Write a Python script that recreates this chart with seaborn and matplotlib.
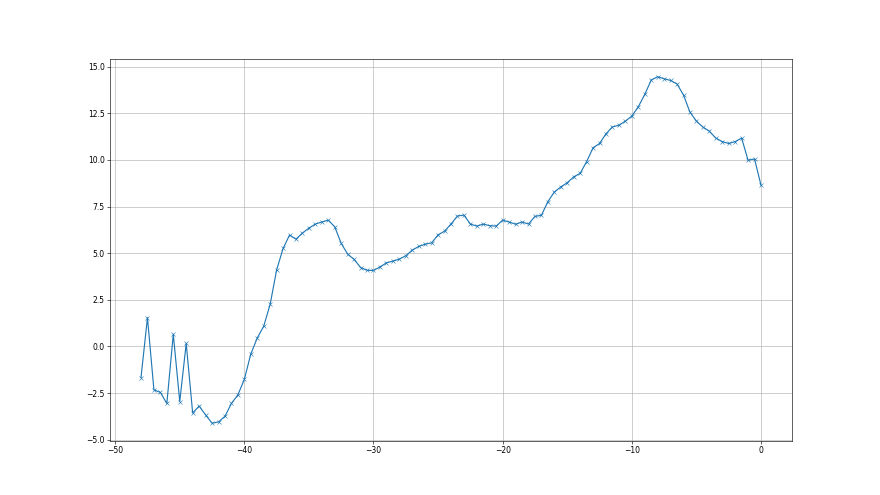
import matplotlib
matplotlib.use("Agg")
import matplotlib.pyplot as plt
import seaborn as sns
import pandas as pd

# x positions (time offset) and values
offsets = [
    -48.0, -47.5, -47.0, -46.5, -46.0, -45.5, -45.0, -44.5, -44.0, -43.5,
    -43.0, -42.5, -42.0, -41.5, -41.0, -40.5, -40.0, -39.5, -39.0, -38.5,
    -38.0, -37.5, -37.0, -36.5, -36.0, -35.5, -35.0, -34.5, -34.0, -33.5,
    -33.0, -32.5, -32.0, -31.5, -31.0, -30.5, -30.0, -29.5, -29.0, -28.5,
    -28.0, -27.5, -27.0, -26.5, -26.0, -25.5, -25.0, -24.5, -24.0, -23.5,
    -23.0, -22.5, -22.0, -21.5, -21.0, -20.5, -20.0, -19.5, -19.0, -18.5,
    -18.0, -17.5, -17.0, -16.5, -16.0, -15.5, -15.0, -14.5, -14.0, -13.5,
    -13.0, -12.5, -12.0, -11.5, -11.0, -10.5, -10.0, -9.5, -9.0, -8.5,
    -8.0, -7.5, -7.0, -6.5, -6.0, -5.5, -5.0, -4.5, -4.0, -3.5,
    -3.0, -2.5, -2.0, -1.5, -1.0, -0.5, 0.0,
]
values = [
    -1.67, 1.54, -2.33, -2.47, -3.06, 0.65, -2.96, 0.16, -3.57, -3.20,
    -3.67, -4.12, -4.05, -3.75, -3.06, -2.60, -1.77, -0.41, 0.45, 1.08,
    2.26, 4.10, 5.25, 5.97, 5.75, 6.08, 6.34, 6.56, 6.67, 6.77,
    6.41, 5.52, 4.95, 4.66, 4.23, 4.08, 4.07, 4.26, 4.48, 4.57,
    4.68, 4.86, 5.16, 5.36, 5.48, 5.55, 5.98, 6.18, 6.56, 6.99,
    7.04, 6.56, 6.45, 6.56, 6.47, 6.45, 6.77, 6.67, 6.55, 6.67,
    6.56, 6.97, 7.03, 7.76, 8.28, 8.55, 8.78, 9.09, 9.28, 9.91,
    10.65, 10.88, 11.40, 11.77, 11.86, 12.08, 12.35, 12.85, 13.51, 14.28,
    14.46, 14.35, 14.26, 14.07, 13.48, 12.56, 12.08, 11.76, 11.54, 11.17,
    10.98, 10.88, 10.98, 11.17, 9.98, 10.05, 8.64,
]

df = pd.DataFrame({"x": offsets, "y": values})

fig, ax = plt.subplots(figsize=(16, 9), dpi=55)
sns.lineplot(
    data=df, x="x", y="y", ax=ax, color="#1f77b4", marker="x",
    markersize=6, markeredgecolor="#1f77b4", markeredgewidth=0.75, linewidth=1.5,
)
ax.grid(True, color="#b0b0b0", linewidth=0.8)
ax.set_xlabel("")
ax.set_ylabel("")

fig.savefig("out.png", dpi=55)
